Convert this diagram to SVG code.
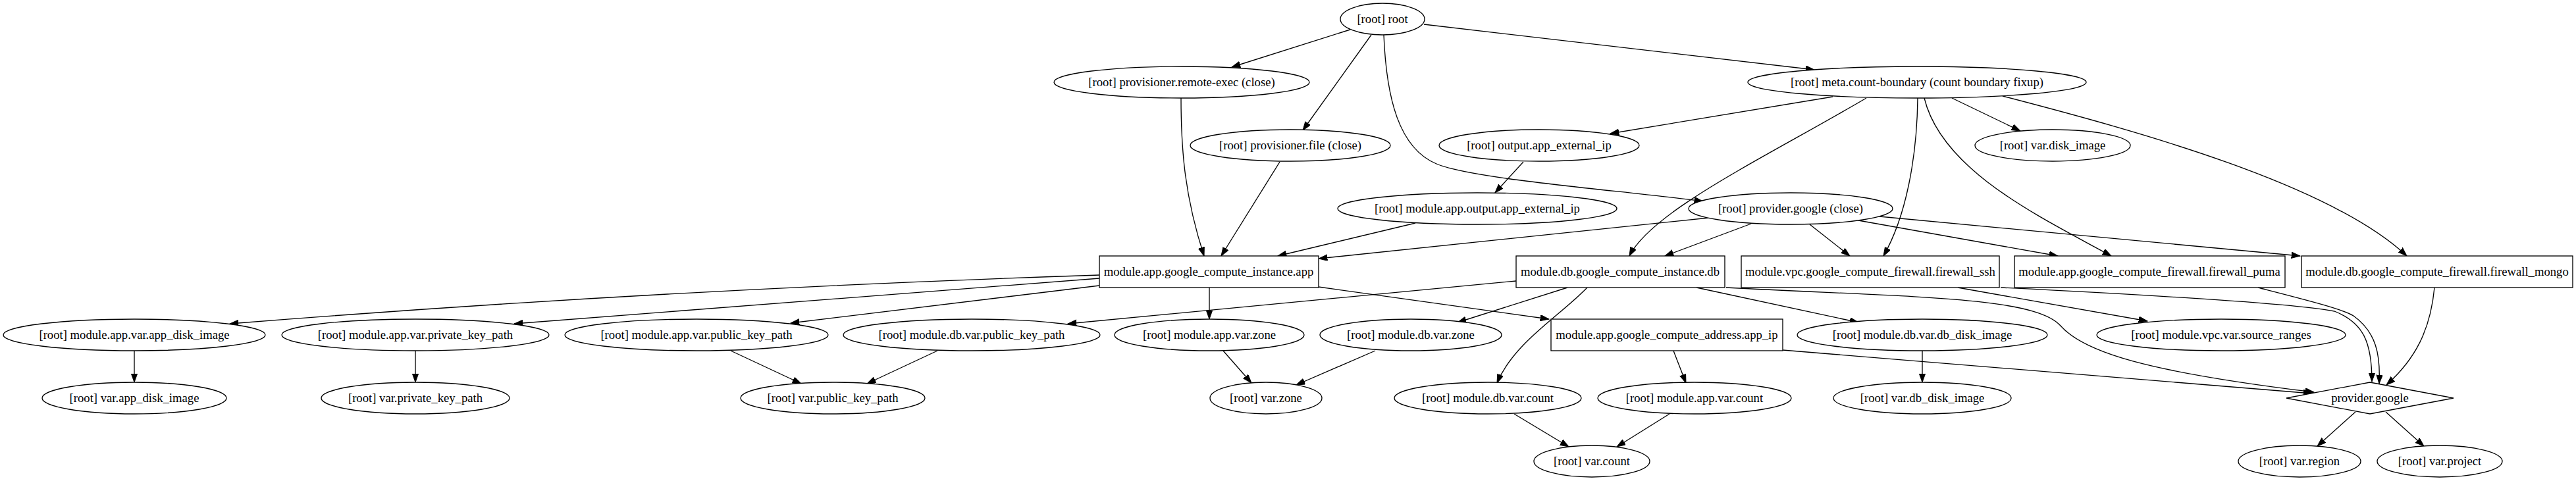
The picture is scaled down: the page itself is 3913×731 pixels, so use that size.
<svg xmlns="http://www.w3.org/2000/svg" width="3913" height="731" viewBox="0 0 3913 731">
<style>
.n ellipse,.n rect,.n polygon{fill:#fff;stroke:#000;stroke-width:1.33}
.n text{font-family:"Liberation Serif","Times New Roman",serif;font-size:18.67px;text-anchor:middle;fill:#000}
.e path{fill:none;stroke:#000;stroke-width:1.33;marker-end:url(#ah)}
</style>
<defs>
<marker id="ah" markerUnits="userSpaceOnUse" markerWidth="14" markerHeight="10" refX="13.3" refY="4.7" orient="auto" viewBox="0 0 14 10">
<path d="M0,0 L13.3,4.7 L0,9.4 z" fill="#000" stroke="#000" stroke-width="1"/>
</marker>
</defs>
<rect width="3913" height="731" fill="#fff"/>
<g id="connectors" class="e">
<path d="M2051,45 L1871,102"/>
<path d="M2083,53 L1979,198"/>
<path d="M2102,53 C2106,150 2125,225 2182,249 S2470,290 2587,306"/>
<path d="M2163,37 L2756,106"/>
<path d="M1794,149 C1794,230 1800,300 1829,389"/>
<path d="M1944,246 L1855,389"/>
<path d="M2784,147 L2446,203"/>
<path d="M2965,149 L3069,199"/>
<path d="M2835,149 C2680,240 2510,320 2475,389"/>
<path d="M2913,149 C2912,240 2895,330 2861,389"/>
<path d="M2923,149 C2950,260 3100,330 3207,389"/>
<path d="M3042,146 C3250,200 3540,280 3656,389"/>
<path d="M2314,246 L2271,293"/>
<path d="M2150,339 L1941,389"/>
<path d="M2596,331 L2003,393"/>
<path d="M2660,340 L2529,389"/>
<path d="M2749,341 L2810,389"/>
<path d="M2823,335 L3126,389"/>
<path d="M2855,329 L3494,389"/>
<path d="M1670,418 Q1000,440 349,492"/>
<path d="M1670,423 L781,492"/>
<path d="M1670,434 L1201,491"/>
<path d="M1837,437 L1837,485"/>
<path d="M2003,436 L2353,485"/>
<path d="M2303,427 L1622,492"/>
<path d="M2381,437 L2214,490"/>
<path d="M2411,437 C2370,480 2300,520 2274,582"/>
<path d="M2577,437 L2823,490"/>
<path d="M2622,437 C2900,452 3090,450 3130,495 C3165,535 3260,565 3515,596"/>
<path d="M2542,533 L2561,582"/>
<path d="M2708,532 L3512,598"/>
<path d="M2920,533 L2920,581"/>
<path d="M2974,437 L3262,488"/>
<path d="M3039,437 C3200,445 3480,460 3546,473 C3590,490 3603,520 3603,580"/>
<path d="M3430,437 C3500,455 3560,470 3575,480 C3610,505 3616,540 3614,583"/>
<path d="M3698,437 C3692,500 3670,545 3625,585"/>
<path d="M204,533 L204,581"/>
<path d="M631,533 L631,581"/>
<path d="M1110,533 L1217,583"/>
<path d="M1424,533 L1317,583"/>
<path d="M1858,533 L1901,582"/>
<path d="M2089,533 L1969,585"/>
<path d="M2300,629 L2383,679"/>
<path d="M2536,629 L2456,679"/>
<path d="M3578,626 L3520,678"/>
<path d="M3624,626 L3682,678"/>
</g>
<g id="root" class="n"><ellipse cx="2100" cy="29" rx="64" ry="24"/><text x="2100" y="35">[root] root</text></g>
<g id="remote_exec" class="n"><ellipse cx="1795" cy="125" rx="194" ry="24"/><text x="1795" y="131">[root] provisioner.remote-exec (close)</text></g>
<g id="prov_file" class="n"><ellipse cx="1960" cy="221" rx="152" ry="24"/><text x="1960" y="227">[root] provisioner.file (close)</text></g>
<g id="meta" class="n"><ellipse cx="2912" cy="125" rx="257" ry="24"/><text x="2912" y="131">[root] meta.count-boundary (count boundary fixup)</text></g>
<g id="output_ext" class="n"><ellipse cx="2338" cy="221" rx="152" ry="24"/><text x="2338" y="227">[root] output.app_external_ip</text></g>
<g id="var_disk_image" class="n"><ellipse cx="3118" cy="221" rx="118" ry="24"/><text x="3118" y="227">[root] var.disk_image</text></g>
<g id="app_output" class="n"><ellipse cx="2244" cy="317" rx="212" ry="24"/><text x="2244" y="323">[root] module.app.output.app_external_ip</text></g>
<g id="provider_close" class="n"><ellipse cx="2720" cy="317" rx="155" ry="24"/><text x="2720" y="323">[root] provider.google (close)</text></g>
<g id="instance_app" class="n"><rect x="1670" y="389" width="333" height="48"/><text x="1836" y="419">module.app.google_compute_instance.app</text></g>
<g id="instance_db" class="n"><rect x="2303" y="389" width="317" height="48"/><text x="2461" y="419">module.db.google_compute_instance.db</text></g>
<g id="fw_ssh" class="n"><rect x="2645" y="389" width="392" height="48"/><text x="2841" y="419">module.vpc.google_compute_firewall.firewall_ssh</text></g>
<g id="fw_puma" class="n"><rect x="3060" y="389" width="411" height="48"/><text x="3265" y="419">module.app.google_compute_firewall.firewall_puma</text></g>
<g id="fw_mongo" class="n"><rect x="3496" y="389" width="412" height="48"/><text x="3702" y="419">module.db.google_compute_firewall.firewall_mongo</text></g>
<g id="app_var_app_disk_image" class="n"><ellipse cx="204" cy="509" rx="199" ry="24"/><text x="204" y="515">[root] module.app.var.app_disk_image</text></g>
<g id="app_var_private_key_path" class="n"><ellipse cx="631" cy="509" rx="203" ry="24"/><text x="631" y="515">[root] module.app.var.private_key_path</text></g>
<g id="app_var_public_key_path" class="n"><ellipse cx="1058" cy="509" rx="200" ry="24"/><text x="1058" y="515">[root] module.app.var.public_key_path</text></g>
<g id="db_var_public_key_path" class="n"><ellipse cx="1476" cy="509" rx="195" ry="24"/><text x="1476" y="515">[root] module.db.var.public_key_path</text></g>
<g id="app_var_zone" class="n"><ellipse cx="1837" cy="509" rx="144" ry="24"/><text x="1837" y="515">[root] module.app.var.zone</text></g>
<g id="db_var_zone" class="n"><ellipse cx="2143" cy="509" rx="138" ry="24"/><text x="2143" y="515">[root] module.db.var.zone</text></g>
<g id="app_ip" class="n"><rect x="2356" y="485" width="352" height="48"/><text x="2532" y="515">module.app.google_compute_address.app_ip</text></g>
<g id="db_var_db_disk_image" class="n"><ellipse cx="2920" cy="509" rx="190" ry="24"/><text x="2920" y="515">[root] module.db.var.db_disk_image</text></g>
<g id="vpc_source_ranges" class="n"><ellipse cx="3374" cy="509" rx="189" ry="24"/><text x="3374" y="515">[root] module.vpc.var.source_ranges</text></g>
<g id="var_app_disk_image" class="n"><ellipse cx="204" cy="605" rx="140" ry="24"/><text x="204" y="611">[root] var.app_disk_image</text></g>
<g id="var_private_key_path" class="n"><ellipse cx="631" cy="605" rx="143" ry="24"/><text x="631" y="611">[root] var.private_key_path</text></g>
<g id="var_public_key_path" class="n"><ellipse cx="1265" cy="605" rx="140" ry="24"/><text x="1265" y="611">[root] var.public_key_path</text></g>
<g id="var_zone" class="n"><ellipse cx="1923" cy="605" rx="85" ry="24"/><text x="1923" y="611">[root] var.zone</text></g>
<g id="db_var_count" class="n"><ellipse cx="2260" cy="605" rx="142" ry="24"/><text x="2260" y="611">[root] module.db.var.count</text></g>
<g id="app_var_count" class="n"><ellipse cx="2574" cy="605" rx="147" ry="24"/><text x="2574" y="611">[root] module.app.var.count</text></g>
<g id="var_db_disk_image" class="n"><ellipse cx="2920" cy="605" rx="135" ry="24"/><text x="2920" y="611">[root] var.db_disk_image</text></g>
<g id="provider_google" class="n"><polygon points="3600,581 3727,605 3600,629 3473,605"/><text x="3600" y="611">provider.google</text></g>
<g id="var_count" class="n"><ellipse cx="2418" cy="701" rx="88" ry="24"/><text x="2418" y="707">[root] var.count</text></g>
<g id="var_region" class="n"><ellipse cx="3493" cy="701" rx="93" ry="24"/><text x="3493" y="707">[root] var.region</text></g>
<g id="var_project" class="n"><ellipse cx="3706" cy="701" rx="95" ry="24"/><text x="3706" y="707">[root] var.project</text></g>
</svg>
